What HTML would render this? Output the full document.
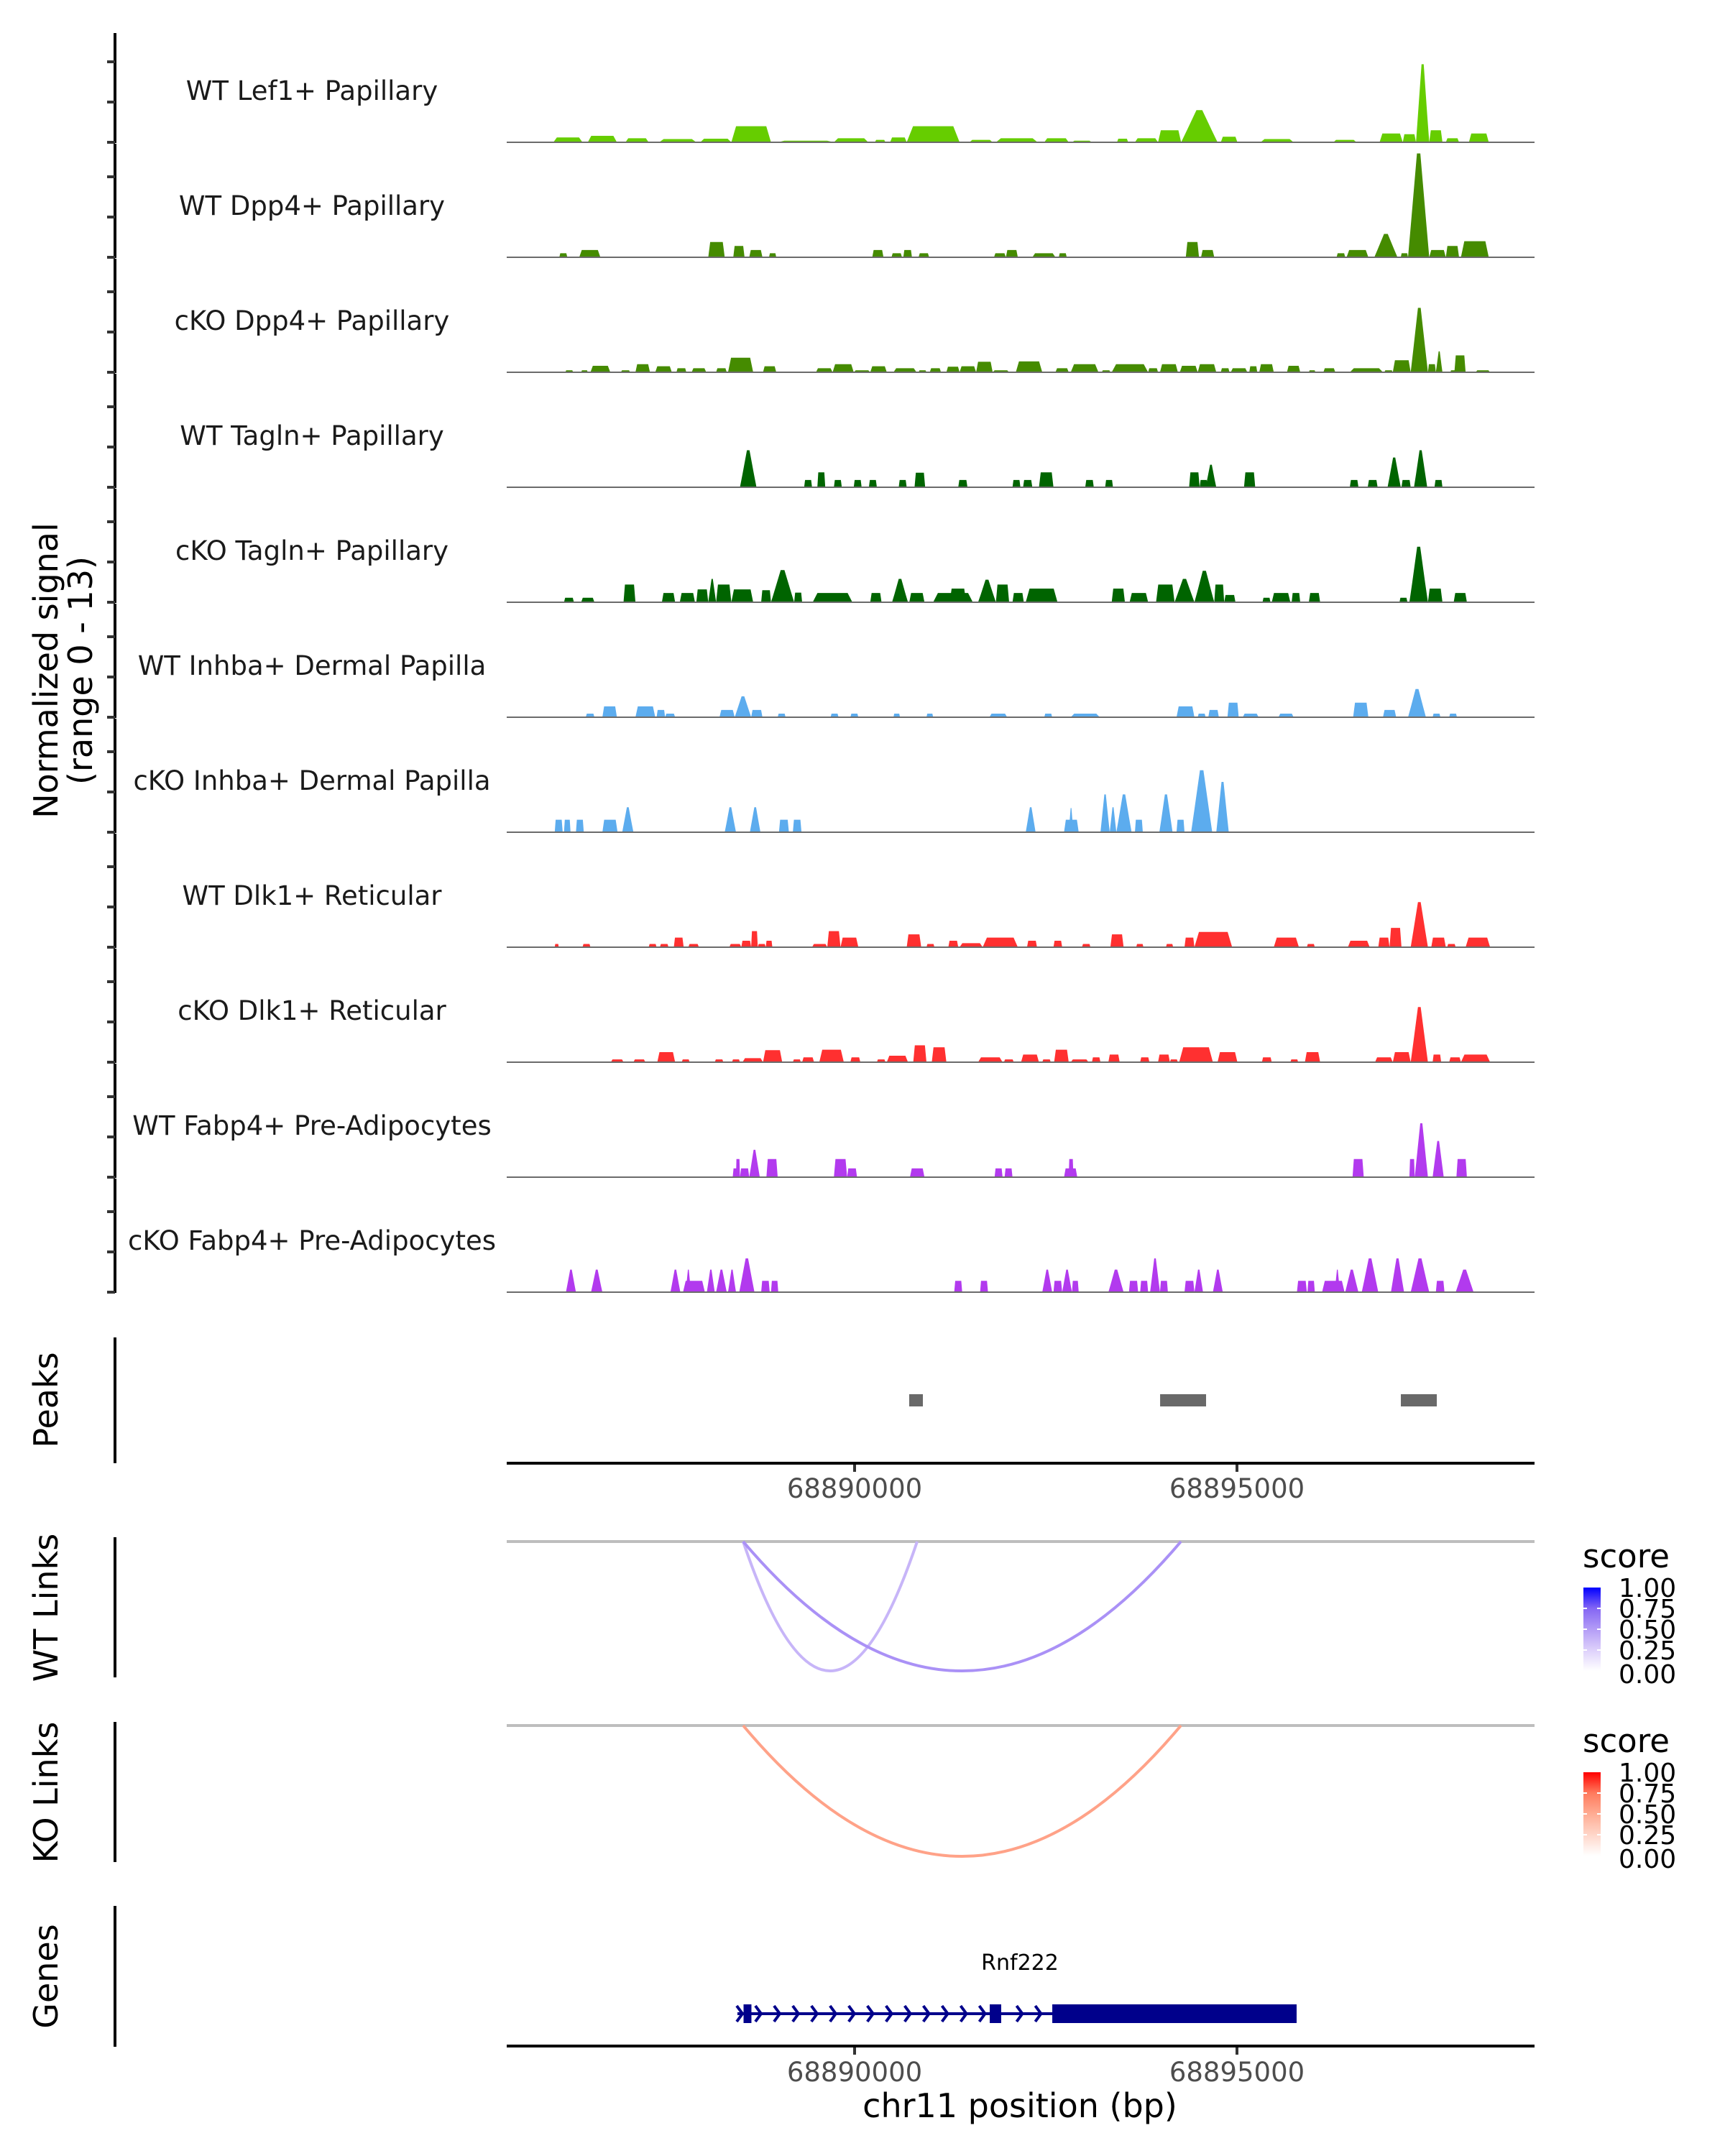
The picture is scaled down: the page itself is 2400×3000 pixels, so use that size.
<!DOCTYPE html>
<html><head><meta charset="utf-8"><style>
html,body{margin:0;padding:0;background:#fff;}
svg{display:block;font-family:"DejaVu Sans","Liberation Sans",sans-serif;}
</style></head>
<body>
<svg id="chart" width="2400" height="3000" viewBox="0 0 2400 3000" xmlns="http://www.w3.org/2000/svg">
<rect x="0" y="0" width="2400" height="3000" fill="#fff"/>
<g id="tracks"></g>
<g id="other"></g>
<text transform="translate(80,933) rotate(-90)" text-anchor="middle" font-size="46" fill="#000">Normalized signal</text>
<text transform="translate(128,933) rotate(-90)" text-anchor="middle" font-size="46" fill="#000">(range 0 - 13)</text>
<text transform="translate(80,1948) rotate(-90)" text-anchor="middle" font-size="46" fill="#000">Peaks</text>
<text transform="translate(80,2237) rotate(-90)" text-anchor="middle" font-size="46" fill="#000">WT Links</text>
<text transform="translate(80,2494) rotate(-90)" text-anchor="middle" font-size="46" fill="#000">KO Links</text>
<text transform="translate(80,2750) rotate(-90)" text-anchor="middle" font-size="46" fill="#000">Genes</text>
<text x="1419" y="2946" text-anchor="middle" font-size="46" fill="#000">chr11 position (bp)</text>
<text x="1419" y="2741" text-anchor="middle" font-size="30" fill="#000">Rnf222</text>
</svg>
<script>
// ---- data ----
const regionOrigin = 68885000;
const xTickValues = [68890000, 68895000];
const xTickLabels = ["68890000", "68895000"];
const trackNames = ["WT Lef1+ Papillary","WT Dpp4+ Papillary","cKO Dpp4+ Papillary","WT Tagln+ Papillary","cKO Tagln+ Papillary","WT Inhba+ Dermal Papilla","cKO Inhba+ Dermal Papilla","WT Dlk1+ Reticular","cKO Dlk1+ Reticular","WT Fabp4+ Pre-Adipocytes","cKO Fabp4+ Pre-Adipocytes"];
const trackColors = ["#66CD00","#458B00","#458B00","#006400","#006400","#5CACEE","#5CACEE","#FF3030","#FF3030","#B23AEE","#B23AEE"];
// islands: [startOffsetBp, endOffsetBp, signal]
const lef1Wt = [[1061,1442,0.6],[1511,1892,0.8],[2004,2307,0.5],[2445,2930,0.4],[2982,3388,0.45],[3388,3907,2.0],[3994,4729,0.2],[4729,5179,0.5],[5265,5404,0.3],[5464,5681,0.6],[5681,6373,2.0],[6502,6805,0.3],[6848,7393,0.5],[7480,7800,0.5],[7843,8103,0.2],[8431,8578,0.45],[8665,8968,0.5],[8968,9270,1.5],[9270,9746,4.0],[9789,10006,0.7],[10308,10741,0.4],[11260,11563,0.3],[11865,12168,1.1],[12168,12341,1.0],[12341,12514,9.7],[12514,12687,1.5],[12731,12904,0.5],[13033,13292,1.1]];
const dpp4Wt = [[1139,1243,0.5],[1399,1676,0.9],[3086,3302,1.9],[3414,3561,1.4],[3622,3795,0.9],[3881,3976,0.5],[5231,5378,0.9],[5482,5620,0.5],[5637,5750,0.9],[5836,5975,0.5],[6822,6978,0.5],[6978,7134,0.9],[7324,7627,0.5],[7670,7774,0.5],[9331,9504,1.9],[9530,9703,0.9],[11303,11415,0.5],[11433,11718,0.9],[11796,12099,2.9],[12142,12237,0.5],[12237,12514,12.9],[12514,12731,0.9],[12731,12904,1.4],[12929,13292,2.0]];
const dpp4Ko = [[1217,1321,0.25],[1425,1511,0.25],[1546,1805,0.8],[1944,2065,0.25],[2134,2324,1.0],[2394,2610,0.75],[2670,2800,0.5],[2869,3060,0.5],[3189,3328,0.5],[3345,3674,1.8],[3803,3976,0.75],[4495,4712,0.5],[4712,4989,1.0],[4989,5205,0.25],[5205,5421,0.75],[5508,5810,0.5],[5836,5940,0.25],[5983,6130,0.5],[6200,6373,0.7],[6373,6589,0.75],[6589,6805,1.3],[6805,7021,0.25],[7108,7454,1.35],[7627,7800,0.5],[7826,8189,1.0],[8232,8345,0.25],[8362,8838,1.0],[8838,8968,0.5],[8993,9227,1.0],[9253,9487,0.8],[9487,9729,1.0],[9789,9902,0.5],[9919,10135,0.5],[10161,10265,0.75],[10291,10481,1.0],[10654,10827,0.8],[10940,11026,0.25],[11130,11286,0.5],[11476,11909,0.5],[11926,12038,0.25],[12038,12272,1.5],[12272,12497,8.0],[12497,12601,1.0],[12601,12687,2.6],[12791,12860,0.25],[12843,12990,2.1],[13120,13310,0.25]];
const taglnWt = [[3501,3717,4.6],[4340,4444,0.9],[4513,4617,1.85],[4729,4833,0.9],[4989,5092,0.9],[5187,5291,0.9],[5577,5681,0.9],[5784,5923,1.8],[6355,6476,0.9],[7065,7168,0.9],[7203,7324,0.9],[7411,7601,1.85],[8016,8128,0.9],[8276,8379,0.9],[9374,9512,1.85],[9512,9616,0.9],[9590,9729,2.8],[10092,10239,1.85],[11476,11588,0.9],[11710,11839,0.9],[11969,12142,3.7],[12151,12272,0.9],[12315,12488,4.6],[12583,12687,0.9]];
const taglnKo = [[1200,1330,0.55],[1425,1598,0.55],[1978,2134,2.2],[2480,2653,1.15],[2714,2913,1.15],[2930,3086,1.6],[3086,3189,2.9],[3189,3388,2.2],[3388,3674,1.6],[3778,3907,1.5],[3907,4210,4.0],[4210,4314,1.2],[4452,4971,1.15],[5205,5352,1.15],[5490,5698,2.9],[5715,5914,1.15],[6027,6546,1.15],[6243,6459,1.7],[6615,6848,2.8],[6848,7021,2.2],[7065,7212,1.15],[7238,7653,1.7],[8362,8535,1.7],[8596,8838,1.15],[8942,9184,2.2],[9184,9444,2.9],[9444,9703,3.9],[9703,9833,2.2],[9833,9980,0.9],[10334,10438,0.55],[10455,10698,1.15],[10715,10827,1.15],[10940,11087,1.15],[12125,12229,0.55],[12255,12497,6.9],[12497,12687,1.7],[12834,13007,1.15]];
const inhbaWt = [[1485,1598,0.45],[1702,1892,1.35],[2134,2394,1.35],[2411,2523,0.9],[2523,2653,0.45],[3233,3432,0.9],[3432,3648,2.6],[3648,3795,0.9],[3994,4098,0.45],[4686,4790,0.45],[4945,5049,0.45],[5508,5594,0.45],[5940,6027,0.45],[6762,6995,0.45],[7480,7584,0.45],[7826,8206,0.45],[9210,9444,1.35],[9487,9590,0.45],[9625,9763,0.9],[9876,10023,1.8],[10075,10283,0.45],[10542,10741,0.45],[11519,11718,1.8],[11909,12082,0.9],[12237,12471,3.5],[12558,12661,0.45],[12774,12877,0.45]];
const inhbaKo = [[1079,1183,1.55],[1200,1286,1.55],[1356,1459,1.55],[1702,1900,1.55],[1961,2108,3.1],[3302,3449,3.1],[3631,3769,3.1],[4011,4141,1.55],[4193,4305,1.55],[7238,7367,3.1],[7739,7930,1.55],[7800,7861,3.0],[8215,8336,4.7],[8336,8423,3.1],[8423,8622,4.7],[8665,8769,1.55],[8985,9158,4.7],[9210,9314,1.55],[9400,9677,7.7],[9729,9893,6.25]];
const dlk1Wt = [[1079,1131,0.4],[1442,1546,0.4],[2307,2411,0.4],[2454,2567,0.4],[2636,2765,1.2],[2826,2964,0.4],[3362,3518,0.4],[3518,3648,0.8],[3648,3734,2.0],[3734,3838,0.4],[3838,3925,0.8],[4444,4643,0.4],[4643,4816,2.0],[4816,5049,1.2],[5681,5871,1.6],[5940,6044,0.4],[6226,6355,0.8],[6373,6675,0.5],[6675,7134,1.2],[7255,7385,0.8],[7601,7714,0.8],[7973,8085,0.4],[8345,8518,1.6],[8682,8777,0.4],[9071,9166,0.4],[9314,9444,1.2],[9444,9937,1.9],[10481,10810,1.2],[10914,11018,0.4],[11450,11736,0.8],[11848,11995,1.2],[11995,12151,2.4],[12272,12497,5.6],[12540,12731,1.2],[12748,12860,0.4],[12990,13310,1.2]];
const dlk1Ko = [[1814,1978,0.35],[2108,2264,0.35],[2420,2653,1.25],[2740,2843,0.35],[3172,3284,0.35],[3397,3501,0.35],[3535,3803,0.5],[3803,4054,1.5],[4193,4297,0.35],[4314,4470,0.6],[4539,4859,1.55],[4945,5075,0.6],[5291,5404,0.35],[5421,5698,0.8],[5767,5940,2.1],[6009,6200,1.85],[6615,6935,0.6],[6952,7082,0.35],[7177,7411,0.95],[7454,7566,0.35],[7609,7800,1.55],[7826,8059,0.35],[8103,8215,0.6],[8319,8466,0.95],[8734,8855,0.6],[8968,9123,0.95],[9123,9227,0.35],[9244,9685,1.85],[9746,10006,1.25],[10326,10455,0.6],[10698,10801,0.35],[10888,11087,1.25],[11805,12038,0.6],[12038,12272,1.25],[12272,12497,6.85],[12558,12670,0.95],[12774,12929,0.6],[12929,13310,0.95]];
const fabp4Wt = [[3406,3501,1.1],[3449,3501,2.25],[3501,3622,1.1],[3622,3760,3.4],[3847,3994,2.25],[4729,4902,2.25],[4902,5032,1.1],[5724,5914,1.1],[6831,6935,1.1],[6961,7065,1.1],[7739,7912,1.1],[7800,7861,2.25],[11511,11658,2.25],[12255,12324,2.25],[12324,12497,6.7],[12558,12704,4.5],[12869,13007,2.25]];
const fabp4Ko = [[1226,1356,2.8],[1554,1702,2.8],[2592,2722,2.8],[2757,3042,1.4],[2791,2861,2.8],[3068,3172,2.8],[3189,3328,2.8],[3345,3449,2.8],[3492,3691,4.2],[3778,3890,1.4],[3907,4002,1.4],[6303,6407,1.4],[6641,6744,1.4],[7454,7584,2.8],[7601,7714,1.4],[7714,7843,2.8],[7843,7930,1.4],[8319,8518,2.8],[8587,8708,1.4],[8734,8838,1.4],[8864,8993,4.2],[8993,9097,1.4],[9314,9444,1.4],[9444,9556,2.8],[9685,9815,2.8],[10784,10914,1.4],[10922,11018,1.4],[11113,11407,1.4],[11278,11347,2.8],[11415,11588,2.8],[11632,11848,4.2],[12013,12185,4.2],[12272,12514,4.2],[12601,12713,1.4],[12860,13094,2.8]];
const trackData = [lef1Wt,dpp4Wt,dpp4Ko,taglnWt,taglnKo,inhbaWt,inhbaKo,dlk1Wt,dlk1Ko,fabp4Wt,fabp4Ko];
const yTickValues = [0, 5, 10];
const peakStarts = [68890714, 68893995, 68897143];
const peakEnds = [68890893, 68894596, 68897613];
const wtLinkStarts = [68888543, 68888543];
const wtLinkEnds = [68890818, 68894267];
const wtLinkScores = [0.38, 0.55];
const koLinkStarts = [68888543];
const koLinkEnds = [68894267];
const koLinkScores = [0.55];
const legendTicks = [0, 0.25, 0.5, 0.75, 1];
const legendLabels = ["0.00","0.25","0.50","0.75","1.00"];
const geneStart = 68888468, geneEnd = 68895780;
const exonStarts = [68888548, 68891767, 68892585];
const exonEnds = [68888651, 68891917, 68895780];

// ---- scales ----
const NS = "http://www.w3.org/2000/svg";
const plotLeft = 705, plotRight = 2135;
function xScale(bp){ return 1189 + (bp - 68890000) * 0.1064; }
const unitPx = 11.2;
function trackBase(i){ return 198 + i * 160; }
function yScale(i, v){ return trackBase(i) - v * unitPx; }
function mk(tag, attrs, parent){ const e = document.createElementNS(NS, tag); for (const k in attrs) e.setAttribute(k, attrs[k]); parent.appendChild(e); return e; }

const tracksG = document.getElementById('tracks');
const otherG = document.getElementById('other');

// coverage tracks
trackData.forEach((islands, i) => {
  const g = mk('g', {}, tracksG);
  
  
  const b = trackBase(i);
  islands.forEach(isl => {
    const x0 = xScale(regionOrigin + isl[0]), x1 = xScale(regionOrigin + isl[1]);
    const y = yScale(i, isl[2]);
    const w = x1 - x0;
    let pts;
    if (isl[2] > 2.5) {
      const m = (x0 + x1) / 2;
      pts = [[x0,b],[x0+w*0.15,b-(b-y)*0.35],[m-w*0.08,y],[m+w*0.08,y],[x1-w*0.15,b-(b-y)*0.35],[x1,b]];
    } else {
      pts = [[x0,b],[x0+w*0.12,y],[x1-w*0.12,y],[x1,b]];
    }
    const p = mk('polygon', {points: pts.map(q => q[0].toFixed(1)+','+q[1].toFixed(1)).join(' '), fill: trackColors[i]}, g);
    
    
  });
  const bl = mk('line', {x1: plotLeft, x2: plotRight, y1: b, y2: b, stroke: '#6b6b6b', 'stroke-width': 2}, g);
  
  
  const lab = mk('text', {x: 434, y: b - 59, 'text-anchor': 'middle', 'font-size': 37, fill: '#1a1a1a'}, g);
  lab.textContent = trackNames[i];
  
  
  const top = i === 0 ? 46 : b - 158;
  const ax = mk('line', {x1: 160, x2: 160, y1: top, y2: b + 1, stroke: '#000', 'stroke-width': 4}, g);
  
  
  yTickValues.forEach(v => {
    const t = mk('line', {x1: 149, x2: 160, y1: yScale(i, v), y2: yScale(i, v), stroke: '#333', 'stroke-width': 4}, g);
    
    
  });
});

function vAxis(y0, y1, name){
  const l = mk('line', {x1: 160, x2: 160, y1: y0, y2: y1, stroke: '#000', 'stroke-width': 4}, otherG);
  
  
}
vAxis(1861, 2036, 'peaks-axis-line');
vAxis(2139, 2334, 'wt-links-axis-line');
vAxis(2396, 2591, 'ko-links-axis-line');
vAxis(2652, 2848, 'genes-axis-line');

// peaks
peakStarts.forEach((s, k) => {
  const r = mk('rect', {x: xScale(s), y: 1940, width: xScale(peakEnds[k]) - xScale(s), height: 17, fill: '#696969'}, otherG);
  
  
});

// x axes
function xAxis(y, lblY, name){
  const l = mk('line', {x1: plotLeft, x2: plotRight, y1: y, y2: y, stroke: '#000', 'stroke-width': 4}, otherG);
  
  
  xTickValues.forEach((v, k) => {
    const t = mk('line', {x1: xScale(v), x2: xScale(v), y1: y + 2, y2: y + 12, stroke: '#333', 'stroke-width': 4}, otherG);
    
    
    const tx = mk('text', {x: xScale(v), y: lblY, 'text-anchor': 'middle', 'font-size': 37, fill: '#4d4d4d'}, otherG);
    tx.textContent = xTickLabels[k];
    
    
  });
}
xAxis(2036, 2084, 'peaks-x-axis');
xAxis(2847, 2896, 'bottom-x-axis');

// color helpers
const blueStops = ["#ffffff","#ddd0fb","#b39cf6","#8466f4","#0000ff"];
const redStops = ["#ffffff","#ffd6c9","#ffac93","#ff7a5d","#ff0000"];
function hex2rgb(h){ return [1,3,5].map(i => parseInt(h.substr(i,2),16)); }
function colorAt(stops, s){
  const p = Math.max(0, Math.min(1, s)) * (stops.length - 1);
  const i = Math.min(stops.length - 2, Math.floor(p)), f = p - i;
  const a = hex2rgb(stops[i]), b = hex2rgb(stops[i+1]);
  return 'rgb(' + a.map((v, k) => Math.round(v + (b[k] - v) * f)).join(',') + ')';
}

// links
function linksPanel(baseY, depth, starts, ends, scores, stops, name){
  const g = mk('g', {}, otherG);
  
  
  const bl = mk('line', {x1: plotLeft, x2: plotRight, y1: baseY, y2: baseY, stroke: '#bebebe', 'stroke-width': 4}, g);
  
  
  starts.forEach((s, k) => {
    const x0 = xScale(s), x1 = xScale(ends[k]), m = (x0 + x1) / 2;
    const p = mk('path', {d: 'M' + x0 + ',' + baseY + ' Q' + m + ',' + (baseY + 2 * depth) + ' ' + x1 + ',' + baseY, fill: 'none', stroke: colorAt(stops, scores[k]), 'stroke-width': 4}, g);
    
    
  });
}
linksPanel(2145, 180, wtLinkStarts, wtLinkEnds, wtLinkScores, blueStops, 'wt-links');
linksPanel(2401, 182, koLinkStarts, koLinkEnds, koLinkScores, redStops, 'ko-links');

// legends
function legend(top, stops, id, name){
  const g = mk('g', {}, otherG);
  
  
  const defs = mk('defs', {}, g);
  const lg = mk('linearGradient', {id: id, x1: 0, y1: 1, x2: 0, y2: 0}, defs);
  stops.forEach((c, k) => mk('stop', {offset: k / (stops.length - 1), 'stop-color': c}, lg));
  const t = mk('text', {x: 2202, y: top - 28, 'font-size': 45, fill: '#000'}, g);
  t.textContent = 'score';
  
  
  const barTop = top, barH = 116;
  const r = mk('rect', {x: 2203, y: barTop, width: 24, height: barH, fill: 'url(#' + id + ')'}, g);
  
  
  legendTicks.forEach((v, k) => {
    const y = barTop + barH * (1 - v);
    if (v > 0 && v < 1) {
      mk('line', {x1: 2203, x2: 2208, y1: y, y2: y, stroke: '#fff', 'stroke-width': 2}, g);
      mk('line', {x1: 2222, x2: 2227, y1: y, y2: y, stroke: '#fff', 'stroke-width': 2}, g);
    }
    const lt = mk('text', {x: 2252, y: y + 13 + (v === 0 ? 4 : 0), 'font-size': 36, fill: '#000'}, g);
    lt.textContent = legendLabels[k];
    
    
  });
}
legend(2209, blueStops, 'gradBlue', 'wt-score-legend');
legend(2466, redStops, 'gradRed', 'ko-score-legend');

// gene model
const gg = mk('g', {}, otherG);


const gy = 2802;
const gl = mk('line', {x1: xScale(geneStart), x2: xScale(geneEnd), y1: gy, y2: gy, stroke: '#00008B', 'stroke-width': 4}, gg);


for (let bp = geneStart; bp < exonStarts[2]; bp += 244) {
  const inExon = exonStarts.some((s, k) => bp >= s - 40 && bp <= exonEnds[k] + 40);
  if (inExon && bp !== geneStart) continue;
  const x = xScale(bp) + 4;
  const c = mk('polyline', {points: (x-5)+','+(gy-11)+' '+(x+3)+','+gy+' '+(x-5)+','+(gy+11), fill: 'none', stroke: '#00008B', 'stroke-width': 4}, gg);
  
  
}
exonStarts.forEach((s, k) => {
  const r = mk('rect', {x: xScale(s), y: gy - 13, width: xScale(exonEnds[k]) - xScale(s), height: 26, fill: '#00008B'}, gg);
  
  
});
</script>
</body></html>
